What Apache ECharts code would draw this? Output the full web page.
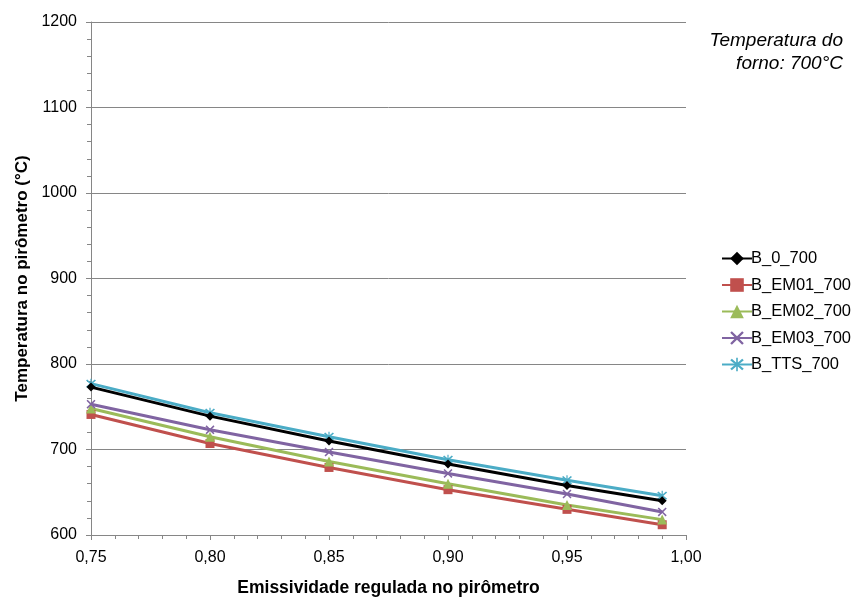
<!DOCTYPE html>
<html>
<head>
<meta charset="utf-8">
<script src="https://cdn.jsdelivr.net/npm/echarts@6/dist/echarts.min.js"></script>
<style>
  html, body { margin: 0; padding: 0; background: #fff; }
  #chart { width: 859px; height: 599px; }
</style>
</head>
<body>
<div id="chart"></div>
<script>
// Emissivity settings on the pyrometer (x axis)
const emissivity = [0.75, 0.80, 0.85, 0.90, 0.95, 0.99];

// Pyrometer temperature readings (°C) for each sample
const seriesNames = ['B_0_700', 'B_EM01_700', 'B_EM02_700', 'B_EM03_700', 'B_TTS_700'];
const b0 = [773, 739, 710, 683, 658, 640];
const bEm01 = [741, 707, 679, 653, 630, 612];
const bEm02 = [748, 715, 686, 660, 635, 618];
const bEm03 = [753, 723, 697, 672, 648, 627];
const bTts = [777, 743, 715, 688, 664, 646];

const colors = ['#000000', '#C0504D', '#9BBB59', '#8064A2', '#4BACC6'];
const xSym = 'path://M0,1.2 L1.2,0 L5,3.8 L8.8,0 L10,1.2 L6.2,5 L10,8.8 L8.8,10 L5,6.2 L1.2,10 L0,8.8 L3.8,5 Z';
const starSym = 'path://M0,1.2 L1.2,0 L5,3.8 L8.8,0 L10,1.2 L6.2,5 L10,8.8 L8.8,10 L5,6.2 L1.2,10 L0,8.8 L3.8,5 Z M4.4,-1 L5.6,-1 L5.6,11 L4.4,11 Z';
const symbols = ['diamond', 'rect', 'triangle', xSym, starSym];
const symbolSizes = [9, 9, 10, 9, 10];
const values = [b0, bEm01, bEm02, bEm03, bTts];

const font = 'Arial, "Liberation Sans", sans-serif';

const chart = echarts.init(document.getElementById('chart'), null, { renderer: 'canvas' });

chart.setOption({
  animation: false,
  backgroundColor: '#ffffff',
  grid: { left: 91, right: 173, top: 22, bottom: 64, containLabel: false, outerBoundsMode: 'none' },
  xAxis: {
    type: 'value',
    min: 0.75,
    max: 1.00,
    interval: 0.05,
    name: 'Emissividade regulada no pirômetro',
    nameLocation: 'middle',
    nameGap: 44,
    nameTextStyle: { fontFamily: font, fontWeight: 'bold', fontSize: 17.5, color: '#000' },
    axisLine: { lineStyle: { color: '#868686', width: 1 } },
    axisTick: { show: true, length: 5, inside: false, lineStyle: { color: '#868686' } },
    minorTick: { show: true, splitNumber: 5, length: 4, lineStyle: { color: '#868686' } },
    splitLine: { show: false },
    axisLabel: {
      fontFamily: font, fontSize: 16, color: '#000', margin: 15,
      formatter: v => v.toFixed(2).replace('.', ',')
    }
  },
  yAxis: {
    type: 'value',
    min: 600,
    max: 1200,
    interval: 100,
    name: 'Temperatura no pirômetro (°C)',
    nameLocation: 'middle',
    nameGap: 60,
    nameTextStyle: { fontFamily: font, fontWeight: 'bold', fontSize: 17, color: '#000' },
    axisLine: { show: true, lineStyle: { color: '#868686', width: 1 } },
    axisTick: { show: true, length: 5, lineStyle: { color: '#868686' } },
    minorTick: { show: true, splitNumber: 5, length: 4, lineStyle: { color: '#868686' } },
    splitLine: { show: true, lineStyle: { color: '#868686', width: 1 } },
    axisLabel: {
      fontFamily: font, fontSize: 16, color: '#000', margin: 14,
      formatter: v => String(v)
    }
  },
  legend: {
    orient: 'vertical',
    left: 716,
    top: 245,
    itemGap: 9.5,
    itemWidth: 30,
    itemHeight: 17,
    textStyle: { fontFamily: font, fontSize: 16.5, color: '#000', padding: [0, 0, 0, -6] },
    data: seriesNames
  },
  graphic: [
    {
      type: 'text', right: 16, top: 29,
      style: {
        text: 'Temperatura do\nforno: 700°C',
        font: 'italic 19px ' + font,
        fill: '#000',
        textAlign: 'right',
        lineHeight: 23
      }
    }
  ],
  series: seriesNames.map((name, i) => ({
    name: name,
    type: 'line',
    data: emissivity.map((x, j) => [x, values[i][j]]),
    symbol: symbols[i],
    symbolSize: symbolSizes[i],
    showAllSymbol: true,
    lineStyle: { color: colors[i], width: 3 },
    itemStyle: { color: colors[i] },
    z: i === 0 ? 3 : 2
  }))
});
</script>
</body>
</html>
